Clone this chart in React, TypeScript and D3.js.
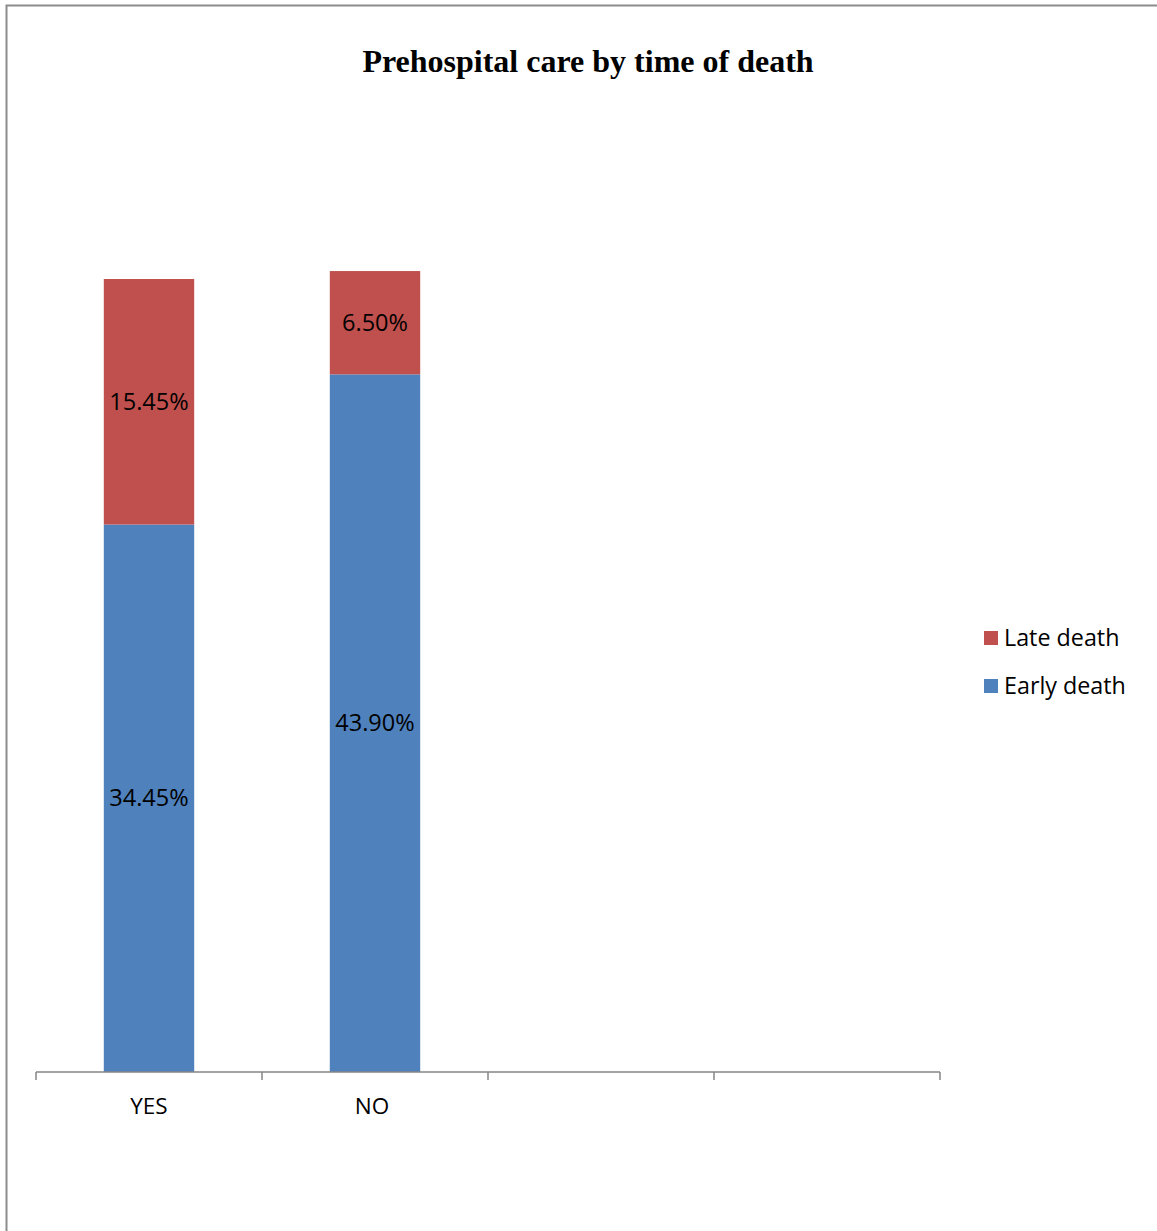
import React from "react";
import * as d3 from "d3";

const categories = ["YES", "NO", "", " "];
const seriesNames = ["Early death", "Late death"];
const earlyDeath = [34.45, 43.9, 0, 0];
const lateDeath = [15.45, 6.5, 0, 0];
const colors = ["#4F81BD", "#C0504D"];
const title = "Prehospital care by time of death";

export default function App() {
  const W = 1157, H = 1231;
  const x0 = 36, x1 = 940, yBase = 1072;
  const x = d3.scaleBand().domain(categories).range([x0, x1]).paddingInner(0).paddingOuter(0);
  const y = d3.scaleLinear().domain([0, 60]).range([yBase, yBase - 953.5]);
  const barW = x.bandwidth() * 0.4;
  const rows = categories.map((c, i) => ({ cat: c, early: earlyDeath[i], late: lateDeath[i] }));
  const stack = d3.stack<any>().keys(["early", "late"])(rows);
  const labelFont = "'Open Sans', 'Noto Sans', sans-serif";
  const ticks = [x0, ...categories.map((c) => (x(c) as number) + x.bandwidth())];

  return (
    <svg width={W} height={H} style={{ position: "absolute", left: 0, top: 0, background: "#fff" }}>
      <rect x={6.5} y={5.5} width={W + 10} height={H + 10} fill="#fff" stroke="#8c8c8c" strokeWidth={2} />
      <text x={588} y={72} textAnchor="middle" fontFamily="'Liberation Serif', 'Times New Roman', serif" fontWeight="bold" fontSize={32}>
        {title}
      </text>
      {stack.map((s, si) =>
        s.map((d, i) => {
          const v = d[1] - d[0];
          if (v <= 0) return null;
          const cx = (x(categories[i]) as number) + x.bandwidth() / 2;
          const top = y(d[1]);
          const bot = y(d[0]);
          return (
            <g key={`${si}-${i}`}>
              <rect x={cx - barW / 2} y={top} width={barW} height={bot - top} fill={colors[si]} />
              <text x={cx} y={(top + bot) / 2} dy="0.35em" textAnchor="middle" fontFamily={labelFont} fontSize={23.5} fill="#000">
                {v.toFixed(2)}%
              </text>
            </g>
          );
        })
      )}
      <line x1={x0} x2={x1} y1={yBase} y2={yBase} stroke="#868686" strokeWidth={1.5} />
      {ticks.map((t, i) => (
        <line key={i} x1={t} x2={t} y1={yBase} y2={yBase + 8} stroke="#868686" strokeWidth={1.5} />
      ))}
      {categories.map((c, i) => (
        <text key={i} x={(x(c) as number) + x.bandwidth() / 2 - (i === 1 ? 3 : 0)} y={1106} dy="0.35em" textAnchor="middle" fontFamily={labelFont} fontSize={22.5}>
          {c.trim()}
        </text>
      ))}
      {[1, 0].map((si, k) => (
        <g key={si} transform={`translate(984, ${631 + k * 48})`}>
          <rect x={0} y={0} width={14} height={14} fill={colors[si]} />
          <text x={20} y={7} dy="0.35em" fontFamily={labelFont} fontSize={23.3}>
            {seriesNames[si]}
          </text>
        </g>
      ))}
    </svg>
  );
}
